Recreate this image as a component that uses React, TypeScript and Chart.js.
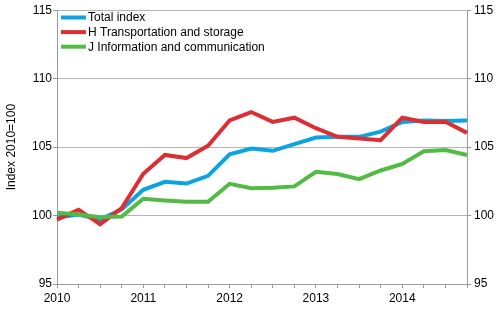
import React, { useEffect, useRef } from "react";
import { Chart, registerables } from "chart.js";

Chart.register(...registerables);

const quarters = [
  "2010Q1", "2010Q2", "2010Q3", "2010Q4",
  "2011Q1", "2011Q2", "2011Q3", "2011Q4",
  "2012Q1", "2012Q2", "2012Q3", "2012Q4",
  "2013Q1", "2013Q2", "2013Q3", "2013Q4",
  "2014Q1", "2014Q2", "2014Q3", "2014Q4",
];

const totalIndex = [
  99.85, 100.07, 99.7, 100.45, 101.88, 102.46, 102.34, 102.9, 104.47, 104.9,
  104.73, 105.22, 105.7, 105.75, 105.75, 106.13, 106.84, 106.95, 106.9, 106.95,
];
const transport = [
  99.7, 100.43, 99.37, 100.55, 103.05, 104.43, 104.2, 105.1, 106.95, 107.56,
  106.84, 107.15, 106.38, 105.75, 105.63, 105.5, 107.15, 106.84, 106.86, 106.04,
];
const infoComm = [
  100.2, 100.07, 99.88, 99.93, 101.23, 101.1, 101.0, 101.0, 102.32, 102.0,
  102.03, 102.13, 103.19, 103.04, 102.66, 103.29, 103.77, 104.69, 104.78, 104.42,
];

const seriesNames = [
  "Total index",
  "H Transportation and storage",
  "J Information and communication",
];
const seriesColors = ["#0aa3e3", "#dc2f34", "#52bb44"];
const yTicks = [95, 100, 105, 110, 115];
const yTitle = "Index 2010=100";

const FONT = "'Liberation Sans', Arial, sans-serif";
const GRID = "#b4b4b4";
const AXIS = "#9a9a9a";

const legendPlugin = {
  id: "insideLegend",
  afterDraw(chart: any) {
    const ctx = chart.ctx;
    ctx.save();
    ctx.font = `12px ${FONT}`;
    ctx.textBaseline = "middle";
    ctx.textAlign = "left";
    seriesNames.forEach((name, i) => {
      const y = 17.5 + i * 14.6;
      ctx.strokeStyle = seriesColors[i];
      ctx.lineWidth = 4;
      ctx.beginPath();
      ctx.moveTo(61, y);
      ctx.lineTo(86, y);
      ctx.stroke();
      ctx.fillStyle = "#000";
      ctx.fillText(name, 88, y + 0.5);
    });
    ctx.restore();
  },
};

export default function App() {
  const ref = useRef<HTMLCanvasElement | null>(null);

  useEffect(() => {
    document.body.style.margin = "0";
    const canvas = ref.current;
    if (!canvas) return;
    const mk = (label: string, data: number[], color: string, order: number) => ({
      label,
      data,
      borderColor: color,
      backgroundColor: color,
      borderWidth: 4,
      pointRadius: 0,
      tension: 0,
      fill: false,
      order,
    });
    const chart = new Chart(canvas, {
      type: "line",
      data: {
        labels: quarters,
        datasets: [
          mk(seriesNames[0], totalIndex, seriesColors[0], 2),
          mk(seriesNames[1], transport, seriesColors[1], 1),
          mk(seriesNames[2], infoComm, seriesColors[2], 0),
        ],
      },
      options: {
        animation: false,
        responsive: false,
        devicePixelRatio: 1,
        layout: { padding: { top: 7, left: 0, right: 0, bottom: 0 } },
        plugins: {
          legend: { display: false },
          tooltip: { enabled: false },
          title: { display: false },
        },
        scales: {
          x: {
            type: "category",
            offset: false,
            grid: {
              display: true,
              drawOnChartArea: false,
              drawTicks: true,
              tickLength: 4,
              color: AXIS,
            },
            border: { display: true, color: AXIS, width: 1 },
            ticks: {
              autoSkip: false,
              maxRotation: 0,
              minRotation: 0,
              padding: 3,
              color: "#000",
              font: { family: FONT, size: 12 },
              callback: (_v: any, i: number) =>
                quarters[i].endsWith("Q1") ? quarters[i].slice(0, 4) : "",
            },
            afterFit: (s: any) => {
              s.height = 46;
            },
          },
          y: {
            position: "left",
            min: 95,
            max: 115,
            afterBuildTicks: (s: any) => {
              s.ticks = yTicks.map((v) => ({ value: v }));
            },
            grid: {
              color: GRID,
              drawTicks: true,
              tickLength: 4,
              tickColor: AXIS,
            },
            border: { display: true, color: AXIS, width: 1 },
            ticks: {
              padding: 1,
              color: "#000",
              font: { family: FONT, size: 12 },
            },
            title: {
              display: true,
              text: yTitle,
              color: "#000",
              font: { family: FONT, size: 12 },
              padding: { top: 4, bottom: 0 },
            },
            afterFit: (s: any) => {
              s.width = 57;
            },
          },
          y2: {
            position: "right",
            min: 95,
            max: 115,
            afterBuildTicks: (s: any) => {
              s.ticks = yTicks.map((v) => ({ value: v }));
            },
            grid: {
              drawOnChartArea: false,
              drawTicks: true,
              tickLength: 4,
              color: AXIS,
            },
            border: { display: true, color: AXIS, width: 1 },
            ticks: {
              padding: 3,
              color: "#000",
              font: { family: FONT, size: 12 },
            },
            afterFit: (s: any) => {
              s.width = 33;
            },
          },
        },
      },
      plugins: [legendPlugin],
    } as any);
    return () => chart.destroy();
  }, []);

  return (
    <div style={{ position: "absolute", left: 0, top: 0, width: 500, height: 330, background: "#fff" }}>
      <canvas ref={ref} width={500} height={330} style={{ width: 500, height: 330, display: "block" }} />
    </div>
  );
}
